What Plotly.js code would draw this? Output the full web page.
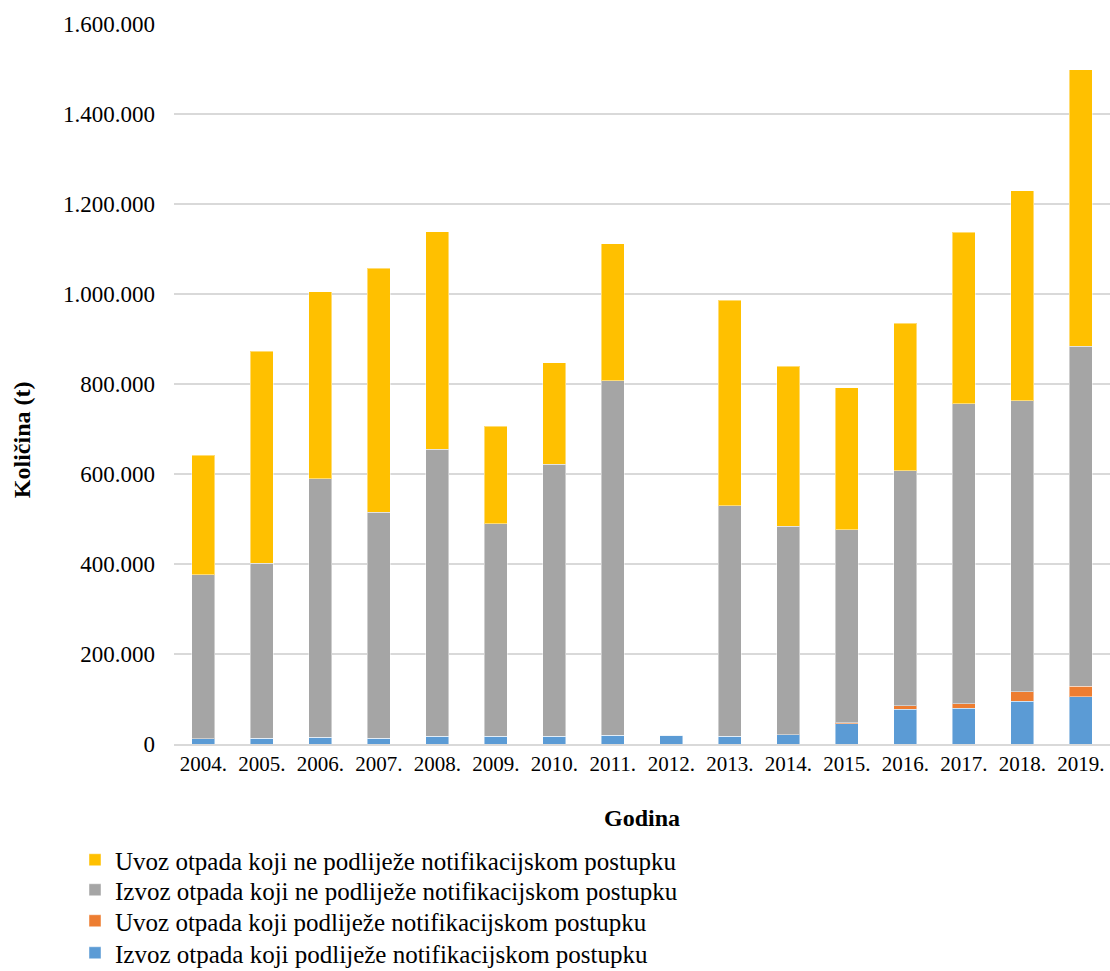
<!DOCTYPE html>
<html>
<head>
<meta charset="utf-8">
<script src="https://cdn.plot.ly/plotly-3.0.1.min.js"></script>
<style>html,body{margin:0;padding:0;background:#fff;}#chart{width:1110px;height:971px;}</style>
</head>
<body>
<div id="chart"></div>
<script>
const years = ["2004.","2005.","2006.","2007.","2008.","2009.","2010.","2011.","2012.","2013.","2014.","2015.","2016.","2017.","2018.","2019."];
const izvozNotif = [12000,12500,15500,13000,17000,17000,17000,19500,19500,17000,21000,44500,77000,80000,95000,105000];
const uvozNotif = [0,0,0,0,0,0,0,0,0,0,0,2500,7500,9000,21000,23000];
const izvozNeNotif = [364400,389700,574200,502500,638500,472700,605200,788000,0,512800,463400,429400,523000,666600,647100,755800];
const uvozNeNotif = [265100,471100,415500,541500,483000,216300,225300,304500,0,456100,355600,315600,327400,381400,466600,614000];
const yTicks = [0,200000,400000,600000,800000,1000000,1200000,1400000,1600000];

const names = [
  "Izvoz otpada koji podliježe notifikacijskom postupku",
  "Uvoz otpada koji podliježe notifikacijskom postupku",
  "Izvoz otpada koji ne podliježe notifikacijskom postupku",
  "Uvoz otpada koji ne podliježe notifikacijskom postupku"
];
const series = [izvozNotif, uvozNotif, izvozNeNotif, uvozNeNotif];
const colors = ["#5B9BD5","#ED7D31","#A5A5A5","#FFC000"];
const legendIds = ["legend4","legend3","legend2","legend"];
const legendRowY = [953, 921, 890, 860];

const traces = series.map((s,i)=>({
  type:'bar', x: years, y: s, name: names[i], legend: legendIds[i],
  marker:{color: colors[i], line:{color:'rgba(255,255,255,0.45)', width:1}},
  hoverinfo:'x+y+name'
}));

const font = "'Liberation Serif', 'Times New Roman', serif";
const layout = {
  width:1110, height:971,
  barmode:'stack', bargap:0.61,
  separators:',.',
  font:{family:font, size:20, color:'#000'},
  paper_bgcolor:'#fff', plot_bgcolor:'#fff',
  margin:{l:174, r:0, t:24, b:227, autoexpand:false},
  xaxis:{
    type:'category', showgrid:false, zeroline:false,
    showline:true, linecolor:'#D9D9D9', linewidth:1.5,
    ticks:'', tickangle:0, automargin:false, tickfont:{size:21, family:font},
    title:{text:'<b>Godina</b>', font:{size:24, family:font}, standoff:34}
  },
  yaxis:{
    range:[0,1600000], tickvals:yTicks, tickformat:',d', automargin:false,
    showgrid:true, gridcolor:'#D9D9D9', gridwidth:1.5,
    zeroline:false, showline:false, ticks:'', ticklabelstandoff:18,
    tickfont:{size:23, family:font}
  },
  annotations:[{
    text:'<b>Količina (t)</b>', textangle:-90, showarrow:false,
    xref:'paper', yref:'paper', x:(22-174)/936, y:(743.7-440)/719.7,
    xanchor:'center', yanchor:'middle', font:{size:24, family:font, color:'#000'}
  }],
  showlegend:true
};
legendIds.forEach((id,i)=>{
  layout[id] = {
    orientation:'v', xref:'container', yref:'container',
    x:75/1110, xanchor:'left', y:1-legendRowY[i]/971, yanchor:'middle',
    font:{size:25, family:font}, bgcolor:'rgba(0,0,0,0)', borderwidth:0
  };
});
Plotly.newPlot('chart', traces, layout, {displayModeBar:false, staticPlot:true});
</script>
</body>
</html>
